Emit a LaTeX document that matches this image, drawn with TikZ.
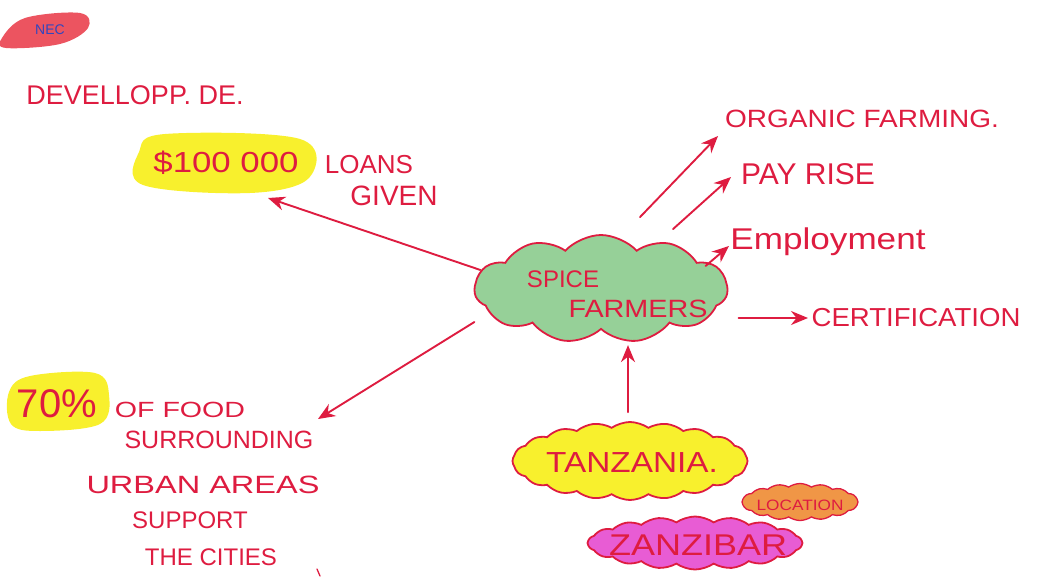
\documentclass[tikz,border=0pt]{standalone}
\usepackage{fontspec}
\setmainfont{Liberation Sans}
\usetikzlibrary{shapes.symbols,arrows.meta,calc}
\definecolor{ink}{RGB}{222,28,64}
\definecolor{hiyel}{RGB}{248,240,45}
\definecolor{leaf}{RGB}{150,208,152}
\definecolor{magen}{RGB}{232,92,212}
\definecolor{orng}{RGB}{240,150,70}
\definecolor{blobred}{RGB}{236,84,96}
\definecolor{pen}{RGB}{50,70,190}
\newcommand\fsz[1]{\fontsize{#1}{#1}\selectfont}
\begin{document}
\begin{tikzpicture}[x=1pt,y=-1pt,
  lbl/.style={text=ink, inner sep=0pt, anchor=center},
  arr/.style={draw=ink, line width=1.9pt, line cap=round, -{Stealth[length=17pt,width=14pt]}},
  puffy/.style={cloud, cloud ignores aspect, draw=ink, line width=1.8pt, inner sep=0pt}
]
\useasboundingbox (0,0) rectangle (1048,585);

% highlights
\fill[blobred] plot[smooth cycle, tension=0.6] coordinates {(2,38) (25,18) (80,13) (88,28) (60,44) (6,48)};
\fill[hiyel] plot[smooth cycle, tension=0.6] coordinates {(139,152) (165,134) (300,139) (309,178) (250,193) (143,185)};
\fill[hiyel] plot[smooth cycle, tension=0.6] coordinates {(9,392) (30,376) (95,373) (109,395) (100,424) (40,431) (11,424)};

% texts top left
\node[lbl, text=pen] (nec) at (50,30) {\fsz{14}NEC};
\node[lbl] (devel) at (135,95) {\fsz{27}DEVELLOPP. DE.};
\node[lbl, xscale=1.2] (money) at (226,163) {\fsz{29}\$100 000};
\node[lbl] (loans) at (369,165) {\fsz{26}LOANS};
\node[lbl] (given) at (394,196) {\fsz{28}GIVEN};

% central cloud
\node[puffy, fill=leaf, cloud puffs=11, cloud puff arc=95, minimum width=253pt, minimum height=108pt] (spice) at (601,289) {};
\node[lbl] (spiceA) at (563,279) {\fsz{24}SPICE};
\node[lbl, xscale=1.15] (spiceB) at (638,309) {\fsz{25}FARMERS};

% location clouds
\node[puffy, fill=magen, cloud puffs=18, cloud puff arc=70, minimum width=214pt, minimum height=53pt] (zan) at (695,543) {};
\node[puffy, fill=hiyel, cloud puffs=20, cloud puff arc=70, minimum width=235pt, minimum height=78pt] (tanz) at (630,461) {};
\node[puffy, fill=orng, cloud puffs=16, cloud puff arc=70, line width=1.3pt, minimum width=116pt, minimum height=37pt] (loc) at (800,502) {};
\node[lbl, xscale=1.2] (zanT) at (698,545) {\fsz{30}ZANZIBAR};
\node[lbl, xscale=1.15] (tanzT) at (632,463) {\fsz{29}TANZANIA.};
\node[lbl, xscale=1.15] (locT) at (800,505) {\fsz{15}LOCATION};

% right texts
\node[lbl, xscale=1.12] (organic) at (862,119) {\fsz{25}ORGANIC FARMING.};
\node[lbl] (pay) at (808,174) {\fsz{30}PAY RISE};
\node[lbl, xscale=1.17] (emp) at (828,242) {\fsz{30}Employment};
\node[lbl, xscale=1.06] (cert) at (916,318) {\fsz{26}CERTIFICATION};

% bottom left texts
\node[lbl] (pct) at (57,404) {\fsz{40}70\%};
\node[lbl, xscale=1.3] (food) at (180,410) {\fsz{22}OF FOOD};
\node[lbl] (surr) at (219,440) {\fsz{25}SURROUNDING};
\node[lbl, xscale=1.3] (urban) at (203,485) {\fsz{25}URBAN AREAS};
\node[lbl] (supp) at (190,520) {\fsz{24}SUPPORT};
\node[lbl] (cities) at (211,557) {\fsz{24}THE CITIES};
\draw[ink, line width=1.3pt, line cap=round] (317,569) -- (320,576);

% arrow tips
\coordinate (loanTip) at (268,198);
\coordinate (foodTip) at (318,419);
\coordinate (orgTip) at (718,136);
\coordinate (payTip) at (731,177);
\coordinate (empTip) at (729,246);
\coordinate (certTip) at (808,318);

% connectors
\draw[arr] ([shift={(7,-19)}]spice.west) -- (loanTip);
\draw[arr] ([shift={(1,33)}]spice.west) -- (foodTip);
\draw[arr] ([shift={(39,-17)}]spice.north) -- (orgTip);
\draw[arr] ([shift={(72,-5)}]spice.north) -- (payTip);
\draw[arr] ([shift={(-23,-23)}]spice.east) -- (empTip);
\draw[arr] ([shift={(10,29)}]spice.east) -- (certTip);
\draw[arr] ([shift={(-2,-9)}]tanz.north) -- ([shift={(27,15)}]spice.south);
\end{tikzpicture}
\end{document}
